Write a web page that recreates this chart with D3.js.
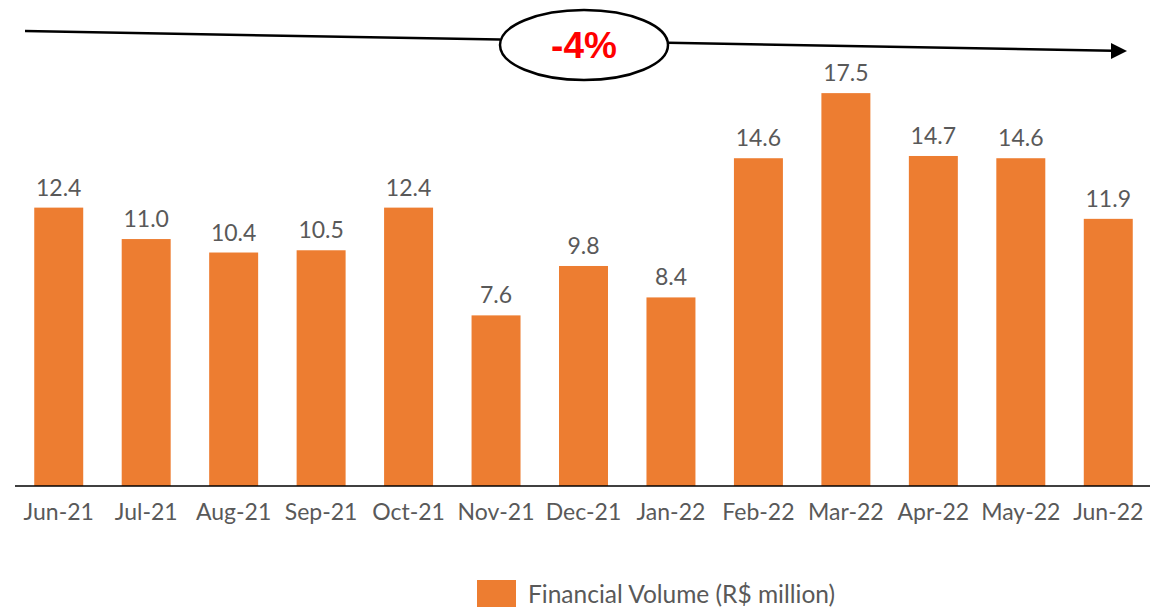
<!DOCTYPE html>
<html>
<head>
<meta charset="utf-8">
<script src="https://cdn.jsdelivr.net/npm/d3@7"></script>
<style>
  body { margin: 0; background: #fff; }
  svg text { font-family: Lato, 'Open Sans', sans-serif; }
</style>
</head>
<body>
<svg id="chart"></svg>
<script>
const months = ['Jun-21', 'Jul-21', 'Aug-21', 'Sep-21', 'Oct-21', 'Nov-21', 'Dec-21', 'Jan-22', 'Feb-22', 'Mar-22', 'Apr-22', 'May-22', 'Jun-22']
const volume = [12.4, 11.0, 10.4, 10.5, 12.4, 7.6, 9.8, 8.4, 14.6, 17.5, 14.7, 14.6, 11.9]
const seriesName = 'Financial Volume (R$ million)'
const changeLabel = '-4%'

const w = 1153
const h = 610
const barColor = '#ED7D31'
const textColor = '#595959'

const svg = d3.select('#chart').attr('width', w).attr('height', h)

const x = d3.scaleBand()
  .domain(months)
  .range([15, 1152])
  .paddingInner(0.44)
  .paddingOuter(0.22)

const y = d3.scaleLinear()
  .domain([0, 20])
  .range([486, 37])

// bars
svg.selectAll('.bar')
  .data(volume)
  .enter()
  .append('rect')
  .attr('class', 'bar')
  .attr('x', (d, i) => x(months[i]))
  .attr('y', d => y(d))
  .attr('width', x.bandwidth())
  .attr('height', d => y(0) - y(d))
  .attr('fill', barColor)

// value labels
svg.selectAll('.value')
  .data(volume)
  .enter()
  .append('text')
  .attr('class', 'value')
  .attr('x', (d, i) => x(months[i]) + x.bandwidth() / 2)
  .attr('y', d => y(d) - 12)
  .attr('text-anchor', 'middle')
  .attr('font-size', 23)
  .attr('fill', textColor)
  .text(d => d.toFixed(1))

// x axis
const xAxis = svg.append('g')
  .attr('transform', `translate(0,${y(0)})`)
  .call(d3.axisBottom(x).tickSize(0).tickPadding(18))
xAxis.select('.domain').attr('stroke', '#000').attr('stroke-width', 1.5)
  .attr('d', 'M15,0H1150')
xAxis.selectAll('text')
  .attr('font-size', 23)
  .attr('fill', textColor)
  .style('font-family', 'Lato, sans-serif')

// trend arrow with ellipse
const trend = { x1: 25, y1: 31, x2: 1127, y2: 51 }
const ell = { cx: 584, cy: 45, rx: 84, ry: 35 }
const lineY = xx => trend.y1 + (trend.y2 - trend.y1) * (xx - trend.x1) / (trend.x2 - trend.x1)

svg.append('line')
  .attr('x1', trend.x1).attr('y1', trend.y1)
  .attr('x2', ell.cx - ell.rx).attr('y2', lineY(ell.cx - ell.rx))
  .attr('stroke', '#000').attr('stroke-width', 2.5)

svg.append('line')
  .attr('x1', ell.cx + ell.rx).attr('y1', lineY(ell.cx + ell.rx))
  .attr('x2', trend.x2 - 14).attr('y2', lineY(trend.x2 - 14))
  .attr('stroke', '#000').attr('stroke-width', 2.5)

svg.append('path')
  .attr('d', `M${trend.x2},${trend.y2}L${trend.x2 - 16},${trend.y2 - 8}L${trend.x2 - 16},${trend.y2 + 8}Z`)
  .attr('fill', '#000')

svg.append('ellipse')
  .attr('cx', ell.cx).attr('cy', ell.cy)
  .attr('rx', ell.rx).attr('ry', ell.ry)
  .attr('fill', '#fff')
  .attr('stroke', '#000')
  .attr('stroke-width', 2.5)

svg.append('text')
  .attr('x', ell.cx)
  .attr('y', ell.cy + 13)
  .attr('text-anchor', 'middle')
  .attr('font-size', 37)
  .attr('font-weight', 'bold')
  .attr('fill', '#FF0000')
  .style('font-family', "'Liberation Sans Narrow', 'Liberation Sans', Arial, sans-serif")
  .text(changeLabel)

// legend
const legend = svg.append('g').attr('transform', 'translate(477,580)')
legend.append('rect')
  .attr('width', 39)
  .attr('height', 27)
  .attr('fill', barColor)
legend.append('text')
  .attr('x', 51)
  .attr('y', 23)
  .attr('font-size', 24.5)
  .attr('fill', textColor)
  .text(seriesName)
</script>
</body>
</html>
